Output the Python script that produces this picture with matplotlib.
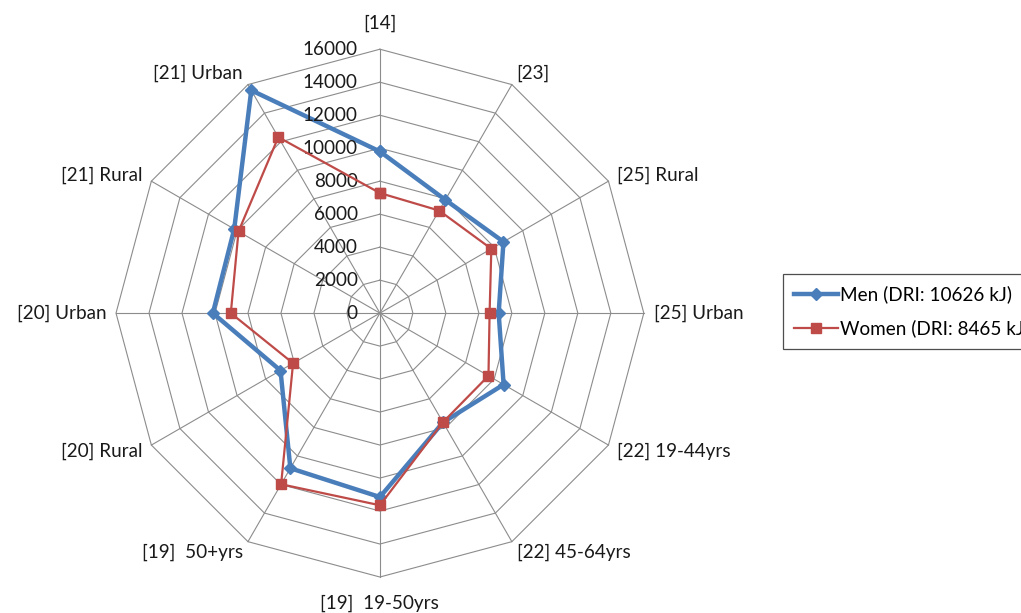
import numpy as np
import matplotlib
matplotlib.use("Agg")
import matplotlib.pyplot as plt

plt.rcParams['font.family'] = ['Lato', 'DejaVu Sans']

categories = ['[14]', '[23]', '[25] Rural', '[25] Urban', '[22] 19-44yrs', '[22] 45-64yrs',
              '[19]  19-50yrs', '[19]  50+yrs', '[20] Rural', '[20] Urban', '[21] Rural', '[21] Urban']
men = [9800, 7930, 8650, 7200, 8660, 7650, 11150, 10860, 6960, 10130, 10200, 15600]
women = [7280, 7180, 7800, 6650, 7600, 7640, 11650, 11980, 6080, 9040, 9900, 12320]
rticks = [0, 2000, 4000, 6000, 8000, 10000, 12000, 14000, 16000]

n = len(categories)
angles = np.arange(n) * 2 * np.pi / n
closed = np.append(angles, angles[0])
rmax = rticks[-1]
fs = 13.6

fig = plt.figure(figsize=(10.21, 6.13), dpi=100)
ax = fig.add_axes([0.1136, 0.0587, 0.517, 0.861], projection='polar')
ax.set_theta_zero_location('N')
ax.set_theta_direction(-1)
ax.set_ylim(0, rmax)
ax.grid(False)
ax.set_xticks([])
ax.set_yticks([])
ax.spines['polar'].set_visible(False)

grid_col = '#8c8c8c'
for v in rticks[1:]:
    ax.plot(closed, [v] * (n + 1), color=grid_col, lw=0.8, zorder=1, clip_on=False)
for a in angles:
    ax.plot([a, a], [0, rmax], color=grid_col, lw=0.8, zorder=1, clip_on=False)

ax.plot(closed, men + men[:1], color='#4a7ebb', lw=3.2, marker='D', ms=6.5,
        label='Men (DRI: 10626 kJ)', zorder=3, clip_on=False)
ax.plot(closed, women + women[:1], color='#be4b48', lw=1.6, marker='s', ms=7,
        label='Women (DRI: 8465 kJ)', zorder=4, clip_on=False)

for v in rticks:
    ax.annotate(str(v), xy=(0, v), xytext=(-16, 0), textcoords='offset points',
                ha='right', va='center', fontsize=fs, color='#1a1a1a')

for a, lab in zip(angles, categories):
    s, c = np.sin(a), np.cos(a)
    if abs(s) < 0.01:
        dx, dy, ha = 0, 19 * np.sign(c), 'center'
    else:
        dx, dy = 7 * s, 9 * c
        ha = 'left' if s > 0 else 'right'
    ax.annotate(lab, xy=(a, rmax), xytext=(dx, dy), textcoords='offset points',
                ha=ha, va='center', fontsize=fs, color='#1a1a1a', annotation_clip=False)

# legend runs off the right edge, as in the original
leg = fig.legend(loc='upper left', bbox_to_anchor=(0.767, 0.553), fontsize=fs,
                 frameon=True, fancybox=False, edgecolor='#222222', handlelength=2.3,
                 handletextpad=0.1, labelspacing=0.85, borderpad=0.6, borderaxespad=0)
leg.get_frame().set_linewidth(0.9)

fig.savefig('out.png', dpi=100)
